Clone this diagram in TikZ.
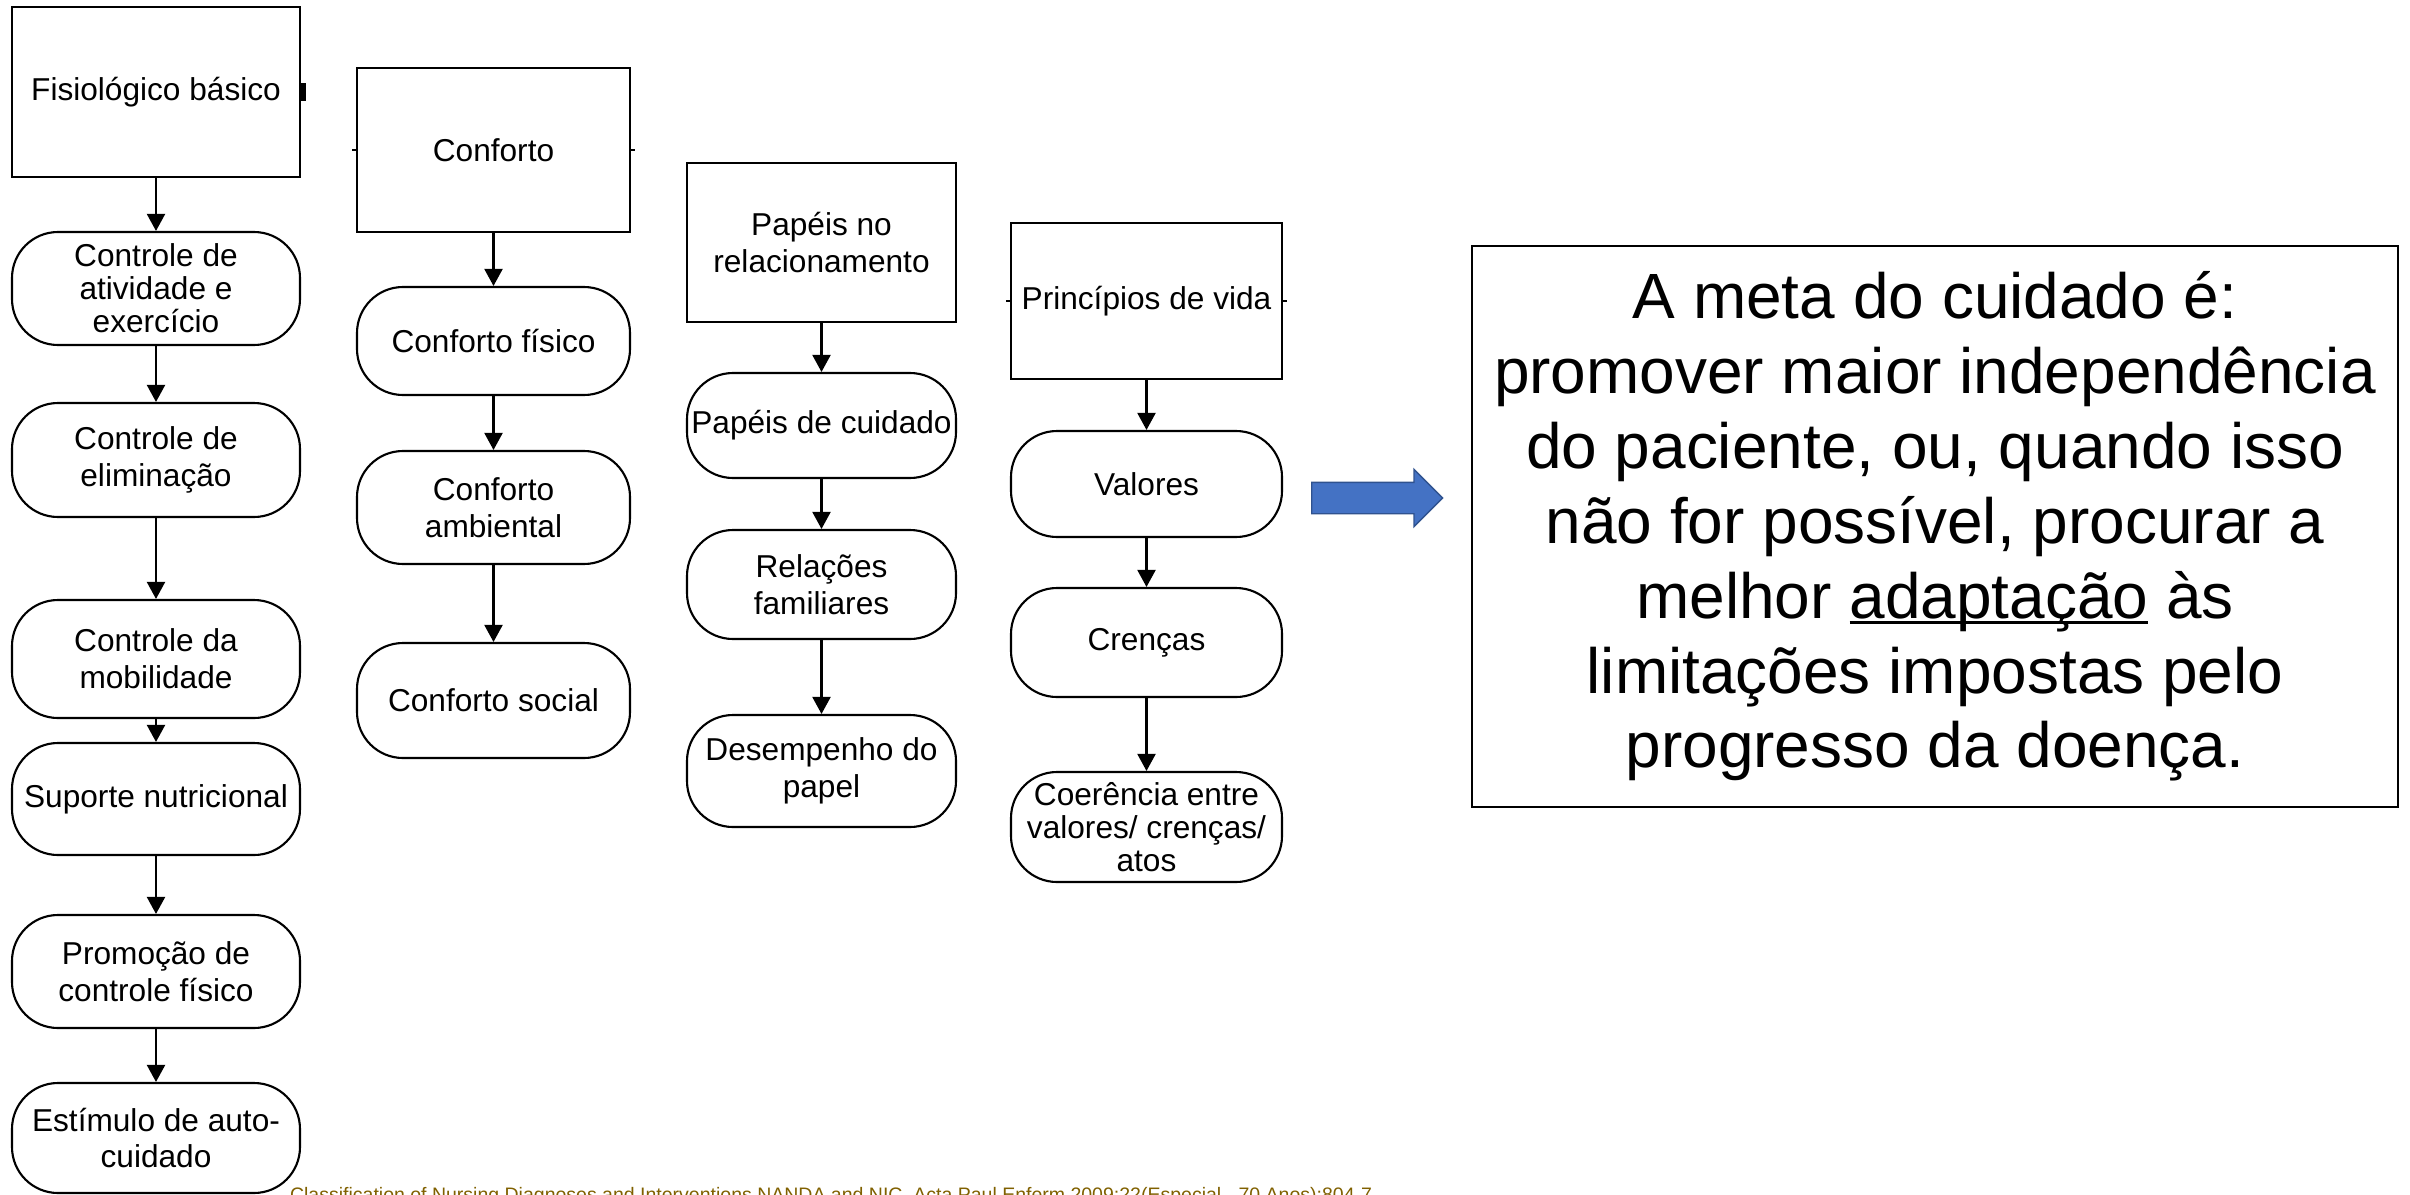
\documentclass[tikz,border=0pt]{standalone}
\usepackage{fontspec}
\setmainfont{Liberation Sans}
\usetikzlibrary{arrows.meta,shapes.arrows}
\definecolor{footbrown}{RGB}{128,96,0}
\definecolor{arrowblue}{RGB}{68,114,196}
\definecolor{arrowedge}{RGB}{47,82,143}
\newcommand{\sublinha}[1]{\setbox0\hbox{#1}\rlap{\rule[-1.8pt]{\wd0}{0.9pt}}\box0\relax}

\begin{document}
\begin{tikzpicture}[line width=0.6pt]
    \tikzstyle{topbox}=[draw,minimum width=2.72cm,minimum height=1.6cm,inner sep=0pt,align=center,font=\fontsize{9}{10.5}\selectfont]
    \tikzstyle{term}=[draw,rounded corners=0.46cm,minimum width=2.72cm,minimum height=1.12cm,inner sep=0pt,align=center,font=\fontsize{9}{10.5}\selectfont]
    \tikzstyle{tight}=[font=\fontsize{9}{9.4}\selectfont]
    \tikzstyle{flow}=[-{Triangle[length=0.17cm,width=0.18cm]}]
    \useasboundingbox (0,0) rectangle (24.10,-11.95);
    % fisiologico
    \node[topbox,minimum width=2.88cm,minimum height=1.70cm] (fis) at (1.56,-0.92) {Fisiológico básico};
    \node[term,tight,minimum width=2.88cm,minimum height=1.13cm] (ativ) at (1.56,-2.885) {Controle de\\atividade e\\exercício};
    \node[term,minimum width=2.88cm,minimum height=1.14cm] (elim) at (1.56,-4.60) {Controle de\\eliminação};
    \node[term,minimum width=2.88cm,minimum height=1.18cm] (mob) at (1.56,-6.59) {Controle da\\mobilidade};
    \node[term,minimum width=2.88cm] (nutr) at (1.56,-7.99) {Suporte nutricional};
    \node[term,minimum width=2.88cm,minimum height=1.13cm] (prom) at (1.56,-9.715) {Promoção de\\controle físico};
    \node[term,minimum width=2.88cm,minimum height=1.10cm] (estim) at (1.56,-11.38) {Estímulo de auto-\\cuidado};
    % conforto
    \node[topbox,minimum width=2.73cm,minimum height=1.64cm] (conf) at (4.935,-1.50) {Conforto};
    \node[term,minimum width=2.73cm,minimum height=1.08cm] (fisico) at (4.935,-3.41) {Conforto físico};
    \node[term,minimum width=2.73cm,minimum height=1.13cm] (amb) at (4.935,-5.075) {Conforto\\ambiental};
    \node[term,minimum width=2.73cm,minimum height=1.15cm] (social) at (4.935,-7.005) {Conforto social};
    % papeis
    \node[topbox,minimum width=2.69cm,minimum height=1.59cm] (papeis) at (8.215,-2.425) {Papéis no\\relacionamento};
    \node[term,minimum width=2.69cm,minimum height=1.05cm] (cuid) at (8.215,-4.255) {Papéis de cuidado};
    \node[term,minimum width=2.69cm,minimum height=1.09cm] (rel) at (8.215,-5.845) {Relações\\familiares};
    \node[term,minimum width=2.69cm] (desemp) at (8.215,-7.71) {Desempenho do\\papel};
    % principios
    \node[topbox,minimum width=2.71cm,minimum height=1.56cm] (princ) at (11.465,-3.01) {Princípios de vida};
    \node[term,minimum width=2.71cm,minimum height=1.06cm] (val) at (11.465,-4.84) {Valores};
    \node[term,minimum width=2.71cm,minimum height=1.09cm] (cren) at (11.465,-6.425) {Crenças};
    \node[term,tight,minimum width=2.71cm,minimum height=1.10cm] (coer) at (11.465,-8.27) {Coerência entre\\valores/ crenças/\\atos};
    % setas
    \draw[flow] (fis) -- (ativ);
    \draw[flow] (ativ) -- (elim);
    \draw[flow] (elim) -- (mob);
    \draw[flow] (mob) -- (nutr);
    \draw[flow] (nutr) -- (prom);
    \draw[flow] (prom) -- (estim);
    \draw[flow] (conf) -- (fisico);
    \draw[flow] (fisico) -- (amb);
    \draw[flow] (amb) -- (social);
    \draw[flow] (papeis) -- (cuid);
    \draw[flow] (cuid) -- (rel);
    \draw[flow] (rel) -- (desemp);
    \draw[flow] (princ) -- (val);
    \draw[flow] (val) -- (cren);
    \draw[flow] (cren) -- (coer);
    % stubs
    \draw[line width=0.18cm] (fis.east) -- ++(0.05,0);
    \draw (conf.west) -- ++(-0.04,0);
    \draw (conf.east) -- ++(0.04,0);
    \draw (princ.west) -- ++(-0.04,0);
    \draw (princ.east) -- ++(0.04,0);
    % meta
    \node[single arrow,fill=arrowblue,draw=arrowedge,line width=0.4pt,minimum height=1.31cm,minimum width=0.56cm,single arrow head extend=0.13cm,inner sep=0pt,text height=0.3cm,text depth=0pt,anchor=tail] (seta) at (13.11,-4.98) {};
    \node[draw,minimum width=9.26cm,minimum height=5.61cm,align=center,font=\fontsize{18.2}{21.3}\selectfont] (meta) at (19.35,-5.265)
      {A meta do cuidado é:\\promover maior independência\\do paciente, ou, quando isso\\não for possível, procurar a\\melhor \sublinha{adaptação} às\\limitações impostas pelo\\progresso da doença.};
    \node[anchor=north west,inner sep=0pt,text=footbrown,font=\fontsize{5.55}{6}\selectfont] (fonte) at (2.89,-11.86)
      {Classification of Nursing Diagnoses and Interventions NANDA and NIC. Acta Paul Enferm 2009;22(Especial - 70 Anos):804-7};
\end{tikzpicture}
\end{document}
